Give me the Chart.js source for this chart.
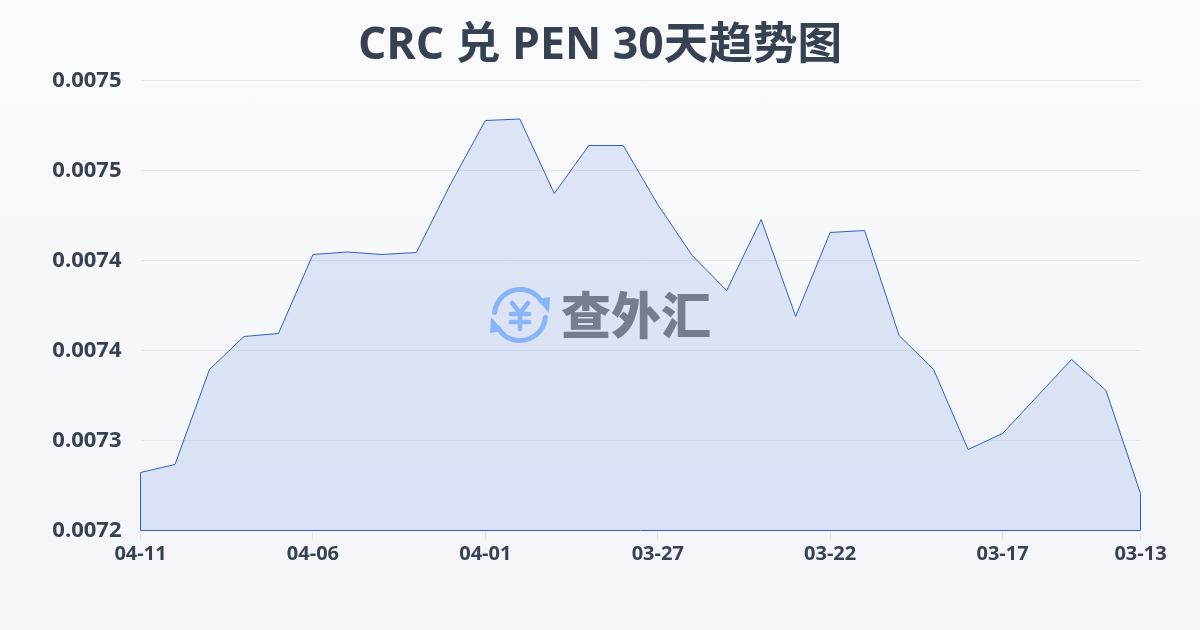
<!DOCTYPE html>
<html lang="zh"><head><meta charset="utf-8">
<style>html,body{margin:0;padding:0;width:1200px;height:630px;overflow:hidden;background:linear-gradient(180deg,#f9fafc 0%,#f3f5f8 100%);}canvas{display:block}</style>
<script src="https://cdn.jsdelivr.net/npm/chart.js@4"></script>
</head><body><canvas id="c" width="1200" height="630"></canvas>
<script>
const titleText = 'CRC 兑 PEN 30天趋势图';
const watermarkText = '查外汇';
const dates = ['04-11','04-10','04-09','04-08','04-07','04-06','04-05','04-04','04-03','04-02','04-01','03-31','03-30','03-29','03-28','03-27','03-26','03-25','03-24','03-23','03-22','03-21','03-20','03-19','03-18','03-17','03-16','03-15','03-14','03-13'];
const rates = [0.00727867,0.007284,0.00734733,0.00736933,0.00737133,0.007424,0.00742567,0.007424,0.00742533,0.00747133,0.00751333,0.00751433,0.00746467,0.00749667,0.00749667,0.00745733,0.00742333,0.0074,0.00744733,0.00738267,0.00743867,0.00744,0.00737,0.00734733,0.007294,0.00730467,0.00732933,0.007354,0.00733333,0.00726467];
const yMin = 0.00724, yMax = 0.00754, yStep = 0.00006;
const FONT = '"Open Sans","Noto Sans CJK SC",sans-serif';
const ink = '#374151', lineBlue = '#2d5fc8', gridCol = '#e5e7eb';

const centerTitle = { id:'centerTitle', afterLayout(chart){ const t = chart.titleBlock; t.left = 0; t.right = chart.width; } };
const closeOutline = { id:'closeOutline', afterDatasetsDraw(chart){
  const pts = chart.getDatasetMeta(0).data, g = chart.ctx, b = Math.floor(chart.scales.y.bottom)+0.5;
  const a = pts[0], z = pts[pts.length-1], xa = Math.floor(a.x)+0.5, xz = Math.floor(z.x)+0.5;
  g.save(); g.strokeStyle = lineBlue; g.lineWidth = 1; g.beginPath();
  g.moveTo(xa,a.y); g.lineTo(xa,b); g.lineTo(xz,b); g.lineTo(xz,z.y); g.stroke(); g.restore();
}};
const watermark = { id:'watermark', afterDraw(chart){
  const g = chart.ctx, cx = 520, cy = 315, r = 25.5;
  g.save();
  g.strokeStyle = g.fillStyle = '#8ab4f8'; g.lineWidth = 5; g.lineCap = 'round';
  g.beginPath(); g.arc(cx,cy,r,Math.PI*1.03,Math.PI*1.83); g.stroke();
  g.beginPath(); g.arc(cx,cy,r,Math.PI*0.03,Math.PI*0.83); g.stroke();
  g.beginPath(); g.moveTo(537,299); g.lineTo(550,297); g.lineTo(549,313); g.closePath(); g.fill();
  g.beginPath(); g.moveTo(503,331); g.lineTo(490,333); g.lineTo(491,317); g.closePath(); g.fill();
  g.lineWidth = 4.5;
  g.beginPath(); g.moveTo(512,303); g.lineTo(520,313); g.lineTo(528,303);
  g.moveTo(511,314); g.lineTo(529,314); g.moveTo(511,322); g.lineTo(529,322);
  g.moveTo(520,313); g.lineTo(520,329); g.stroke();
  g.fillStyle = '#767d8c'; g.font = '900 50px "Noto Sans CJK SC",sans-serif'; g.textAlign='left'; g.textBaseline='middle';
  g.fillText(watermarkText,561,315);
  g.restore();
}};

new Chart(document.getElementById('c'),{
  type:'line',
  data:{labels:dates,datasets:[{data:rates,borderColor:lineBlue,borderWidth:1,backgroundColor:'rgba(37,90,215,0.13)',fill:'start',pointRadius:0,tension:0}]},
  plugins:[centerTitle,closeOutline,watermark],
  options:{
    responsive:false,animation:false,
    layout:{padding:{left:30.5,right:59.5,top:0,bottom:39.5}},
    plugins:{legend:{display:false},tooltip:{enabled:false},
      title:{display:true,text:titleText,color:ink,font:{family:FONT,size:44.6,weight:'bold',lineHeight:1.2},padding:{top:20,bottom:6.98}}},
    scales:{
      x:{offset:false,
        afterBuildTicks(s){s.ticks=s.ticks.filter((t,i)=>i%5===0||i===dates.length-1);},
        afterFit(s){s.height=60;},
        grid:{drawOnChartArea:false,color:gridCol,tickLength:10,tickColor:gridCol},border:{display:false},
        ticks:{autoSkip:false,maxRotation:0,minRotation:0,color:ink,padding:2,font:{family:FONT,size:20,weight:'bold'}}},
      y:{min:yMin,max:yMax,
        afterBuildTicks(s){const n=Math.round((yMax-yMin)/yStep);s.ticks=Array.from({length:n+1},(_,i)=>({value:yMin+i*yStep}));},
        afterFit(s){s.width=110;},
        grid:{color:gridCol,drawTicks:false},border:{display:false},
        ticks:{color:ink,padding:19,callback:v=>v.toFixed(4),font:{family:FONT,size:22,weight:'bold'}}}
    }
  }
});
</script></body></html>
